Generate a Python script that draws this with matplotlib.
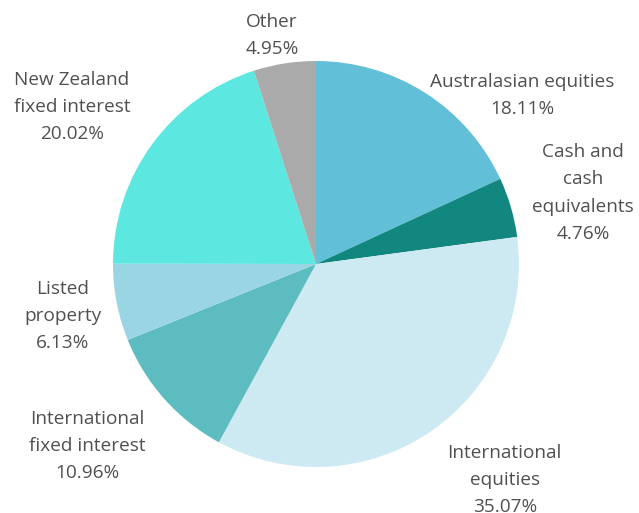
import matplotlib.pyplot as plt

# Portfolio allocation
categories = [
    "Australasian equities",
    "Cash and\ncash\nequivalents",
    "International\nequities",
    "International\nfixed interest",
    "Listed\nproperty",
    "New Zealand\nfixed interest",
    "Other",
]
shares = [18.11, 4.76, 35.07, 10.96, 6.13, 20.02, 4.95]
colors = ["#62bfd8", "#11877f", "#cdeaf2", "#5cbcbf", "#9ad5e3", "#5ce8e0", "#aaaaaa"]

# label centres, in units of the pie radius
label_xy = [
    (1.015, 0.83),
    (1.315, 0.35),
    (0.93, -1.065),
    (-1.128, -0.898),
    (-1.246, -0.258),
    (-1.202, 0.772),
    (-0.217, 1.126),
]

plt.rcParams["font.family"] = ["Open Sans", "DejaVu Sans"]

fig = plt.figure(figsize=(6.39, 5.13), dpi=100)
ax = fig.add_axes([113 / 639, 46 / 513, 406 / 639, 406 / 513])

ax.pie(
    shares,
    colors=colors,
    startangle=90,
    counterclock=False,
    radius=1,
    wedgeprops={"linewidth": 0},
)
ax.set_xlim(-1, 1)
ax.set_ylim(-1, 1)
ax.set_aspect("equal")
ax.axis("off")

for name, val, (x, y) in zip(categories, shares, label_xy):
    ax.text(
        x, y, f"{name}\n{val:.2f}%",
        ha="center", va="center", fontsize=13.7, color="#505050",
        linespacing=1.65, clip_on=False,
    )

fig.savefig("out.png", dpi=100)
